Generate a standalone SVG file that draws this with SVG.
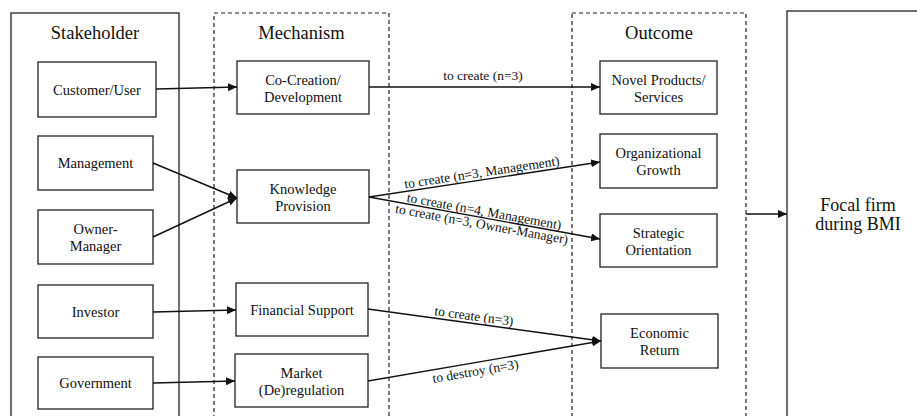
<svg xmlns="http://www.w3.org/2000/svg" width="917" height="416" viewBox="0 0 917 416">
<style>
.box{fill:#fff;stroke:#222;stroke-width:1.3}
.dash{fill:none;stroke:#222;stroke-width:1.2;stroke-dasharray:4 3}
.t{font-family:"Liberation Serif","Times New Roman",serif;font-size:14.5px;fill:#111;text-anchor:middle}
.h{font-family:"Liberation Serif","Times New Roman",serif;font-size:18.5px;fill:#111;text-anchor:middle}
.f{font-family:"Liberation Serif","Times New Roman",serif;font-size:18px;fill:#111;text-anchor:middle}
.l{font-family:"Liberation Serif","Times New Roman",serif;font-size:13.5px;fill:#111;text-anchor:middle}
.c{fill:none;stroke:#111;stroke-width:1.4;marker-end:url(#ah)}
</style>
<defs>
<marker id="ah" markerUnits="userSpaceOnUse" markerWidth="10" markerHeight="8" refX="9" refY="4" orient="auto">
<path d="M0,0 L9,4 L0,8 z" fill="#111"/>
</marker>
</defs>
<rect width="917" height="416" fill="#fff"/>
<g id="stakeholder-group">
<rect class="box" x="11" y="13" width="168" height="420"/>
<text class="h" x="95" y="39">Stakeholder</text>
</g>
<g id="mechanism-group">
<rect class="dash" x="214" y="13" width="175" height="420"/>
<text class="h" x="301.5" y="39">Mechanism</text>
</g>
<g id="outcome-group">
<rect class="dash" x="572" y="13" width="174" height="420"/>
<text class="h" x="659" y="39">Outcome</text>
</g>
<g id="focal-firm">
<rect class="box" x="787" y="11" width="150" height="420"/>
<text class="f" x="858" y="211">Focal firm</text>
<text class="f" x="858" y="230">during BMI</text>
</g>
<g id="customer-user">
<rect class="box" x="38" y="62" width="118" height="55"/>
<text class="t" x="97" y="95">Customer/User</text>
</g>
<g id="management">
<rect class="box" x="38" y="136" width="115" height="54"/>
<text class="t" x="95.5" y="168">Management</text>
</g>
<g id="owner-manager">
<rect class="box" x="38" y="210" width="115" height="54"/>
<text class="t" x="95.5" y="234">Owner-</text>
<text class="t" x="95.5" y="251">Manager</text>
</g>
<g id="investor">
<rect class="box" x="38" y="285" width="115" height="53"/>
<text class="t" x="95.5" y="317">Investor</text>
</g>
<g id="government">
<rect class="box" x="38" y="357" width="115" height="52"/>
<text class="t" x="95.5" y="388">Government</text>
</g>
<g id="co-creation">
<rect class="box" x="237" y="61" width="132" height="53"/>
<text class="t" x="303" y="85">Co-Creation/</text>
<text class="t" x="303" y="102">Development</text>
</g>
<g id="knowledge-provision">
<rect class="box" x="237" y="170" width="132" height="53"/>
<text class="t" x="303" y="194">Knowledge</text>
<text class="t" x="303" y="211">Provision</text>
</g>
<g id="financial-support">
<rect class="box" x="236" y="283" width="132" height="53"/>
<text class="t" x="302" y="315">Financial Support</text>
</g>
<g id="market-deregulation">
<rect class="box" x="235" y="354" width="133" height="53"/>
<text class="t" x="301.5" y="378">Market</text>
<text class="t" x="301.5" y="395">(De)regulation</text>
</g>
<g id="novel-products">
<rect class="box" x="600" y="61" width="117" height="53"/>
<text class="t" x="658.5" y="85">Novel Products/</text>
<text class="t" x="658.5" y="102">Services</text>
</g>
<g id="organizational-growth">
<rect class="box" x="600" y="134" width="117" height="54"/>
<text class="t" x="658.5" y="158">Organizational</text>
<text class="t" x="658.5" y="175">Growth</text>
</g>
<g id="strategic-orientation">
<rect class="box" x="600" y="214" width="117" height="53"/>
<text class="t" x="658.5" y="238">Strategic</text>
<text class="t" x="658.5" y="255">Orientation</text>
</g>
<g id="economic-return">
<rect class="box" x="601" y="314" width="117" height="54"/>
<text class="t" x="659.5" y="338">Economic</text>
<text class="t" x="659.5" y="355">Return</text>
</g>
<g id="connectors">
<line class="c" x1="156" y1="89" x2="237" y2="87"/>
<line class="c" x1="369" y1="87" x2="600" y2="87"/>
<line class="c" x1="153" y1="163" x2="237" y2="198"/>
<line class="c" x1="153" y1="237" x2="237" y2="198"/>
<line class="c" x1="369" y1="197" x2="600" y2="162"/>
<line class="c" x1="369" y1="197" x2="600" y2="239"/>
<line class="c" x1="153" y1="312" x2="236" y2="310"/>
<line class="c" x1="153" y1="383" x2="235" y2="381"/>
<line class="c" x1="368" y1="309" x2="601" y2="341"/>
<line class="c" x1="368" y1="381" x2="601" y2="341"/>
<line class="c" x1="746" y1="214" x2="787" y2="214"/>
<text class="l" x="483" y="80">to create (n=3)</text>
<text class="l" transform="translate(483,179.7) rotate(-8.62)" x="0" y="-3">to create (n=3, Management)</text>
<text class="l" transform="translate(483,217.7) rotate(10.3)" x="0" y="-2">to create (n=4, Management)</text>
<text class="l" transform="translate(483,217.7) rotate(10.3)" x="0" y="11">to create (n=3, Owner-Manager)</text>
<text class="l" transform="translate(473,323.4) rotate(7.82)" x="0" y="-3">to create (n=3)</text>
<text class="l" transform="translate(474,362.8) rotate(-9.74)" x="0" y="13">to destroy (n=3)</text>
</g>
</svg>
